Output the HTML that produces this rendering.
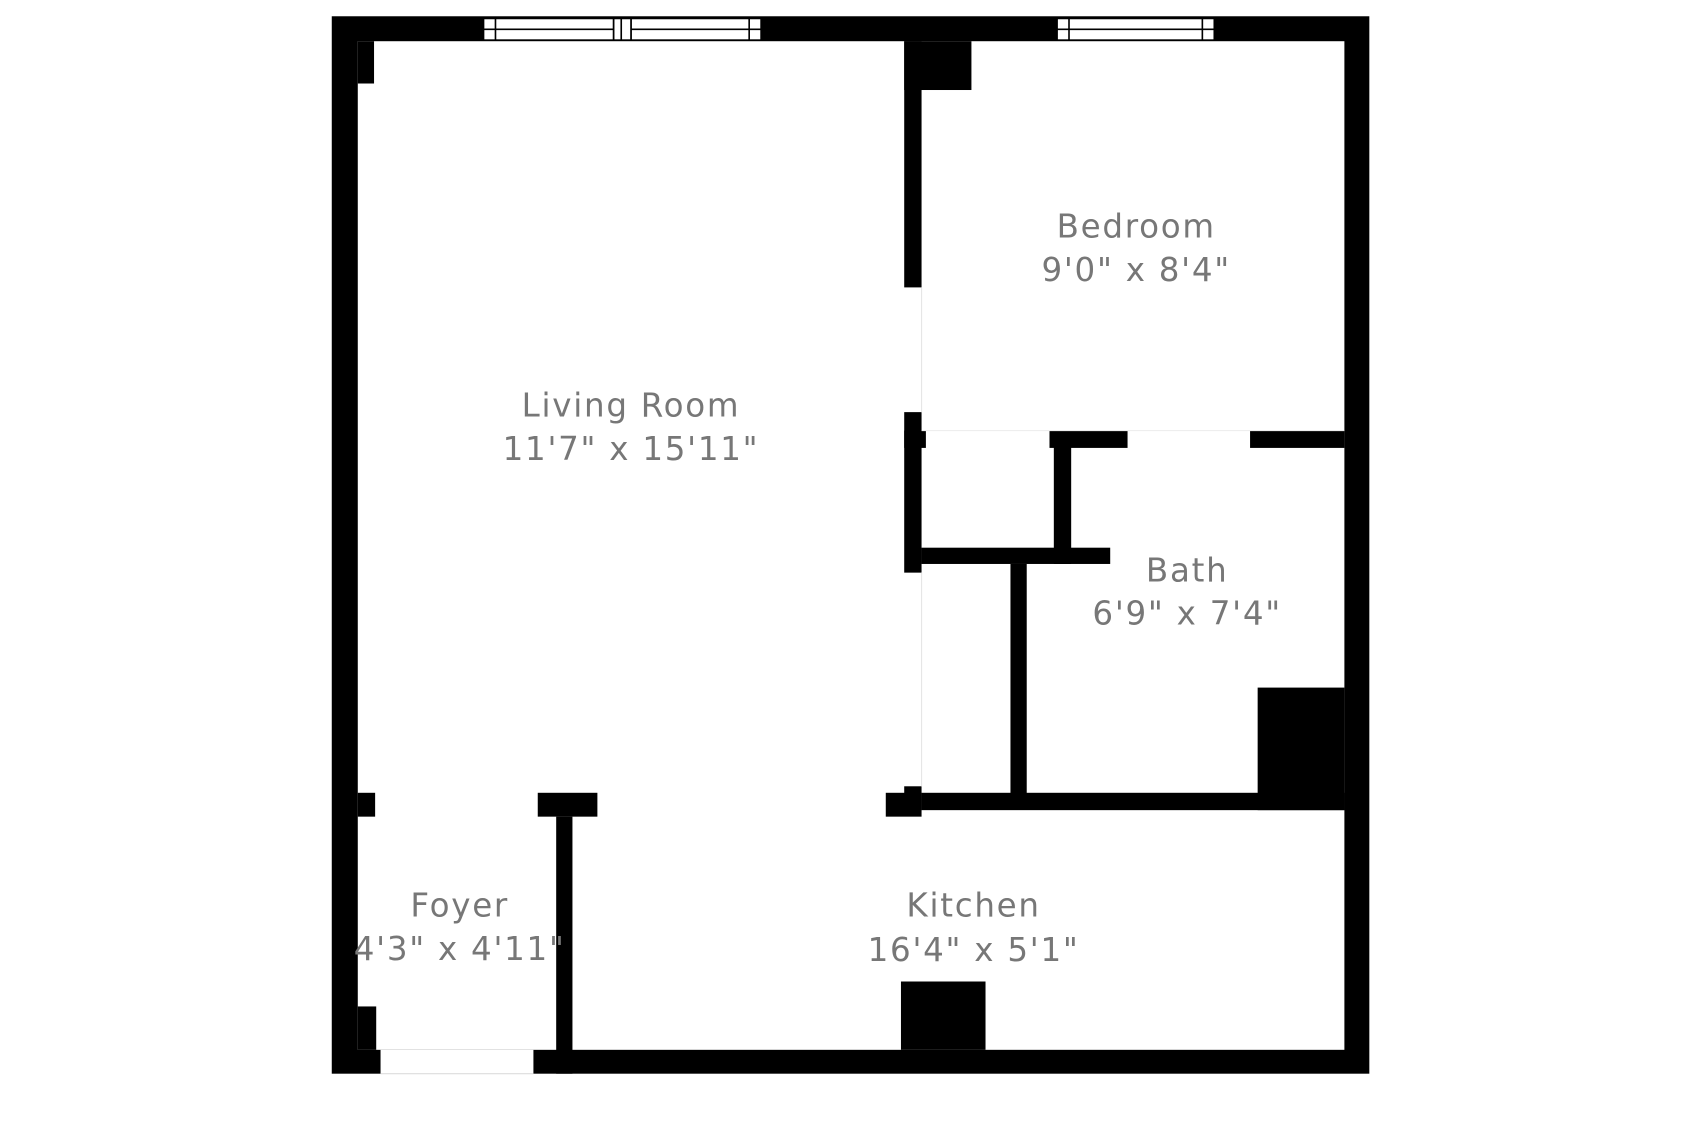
<!DOCTYPE html>
<html><head><meta charset="utf-8"><style>
html,body{margin:0;padding:0;background:#fff;width:1700px;height:1129px;overflow:hidden}
svg{display:block}
text{font-family:"DejaVu Sans","Liberation Sans",sans-serif;font-size:30px;fill:#777;text-anchor:middle;letter-spacing:1.6px}
</style></head><body>
<svg width="1700" height="1129" viewBox="0 0 1568 1041" preserveAspectRatio="none" xmlns="http://www.w3.org/2000/svg">
<rect width="1568" height="1041" fill="#fff"/>
<rect x="306" y="15" width="957" height="975" fill="#000"/>
<rect x="330" y="38" width="910" height="930" fill="#fff"/>
<rect x="351" y="968" width="141" height="22" fill="#fff"/>
<line x1="351" y1="990" x2="492" y2="990" stroke="#ddd" stroke-width="1"/>
<g fill="#fff" stroke="#000" stroke-width="1.5">
<rect x="446" y="17" width="120" height="20"/><rect x="582" y="17" width="120" height="20"/>
<rect x="566" y="17" width="16" height="20"/>
<rect x="975" y="17" width="145" height="20"/>
</g>
<g stroke="#000" stroke-width="1.5">
<line x1="446" y1="27" x2="566" y2="27"/><line x1="582" y1="27" x2="702" y2="27"/><line x1="975" y1="27" x2="1120" y2="27"/>
<line x1="457" y1="17" x2="457" y2="37"/><line x1="691" y1="17" x2="691" y2="37"/>
<line x1="986" y1="17" x2="986" y2="37"/><line x1="1109" y1="17" x2="1109" y2="37"/>
<line x1="573" y1="17" x2="573" y2="37"/>
</g>
<g fill="#000">
<rect x="330" y="38" width="15" height="39"/>
<rect x="834" y="38" width="16" height="227"/>
<rect x="834" y="38" width="62" height="45"/>
<rect x="834" y="380" width="16" height="148"/>
<rect x="834" y="397" width="20" height="16"/>
<rect x="968" y="397" width="72" height="16"/>
<rect x="1153" y="397" width="87" height="16"/>
<rect x="972" y="397" width="16" height="123"/>
<rect x="850" y="505" width="174" height="15"/>
<rect x="932" y="520" width="15" height="220"/>
<rect x="834" y="725" width="16" height="22"/>
<rect x="850" y="731" width="390" height="16"/>
<rect x="1160" y="634" width="80" height="113"/>
<rect x="330" y="731" width="16" height="22"/>
<rect x="496" y="731" width="55" height="22"/>
<rect x="817" y="731" width="33" height="22"/>
<rect x="513" y="753" width="15" height="237"/>
<rect x="330" y="928" width="17" height="40"/>
<rect x="831" y="905" width="78" height="63"/>
</g>
<line x1="850" y1="265" x2="850" y2="380" stroke="#e6e6e6" stroke-width="1"/>
<line x1="850" y1="528" x2="850" y2="725" stroke="#e6e6e6" stroke-width="1"/>
<line x1="850" y1="397" x2="1240" y2="397" stroke="#eee" stroke-width="1"/>
<text x="1048" y="219">Bedroom</text>
<text x="1048" y="259">9'0" x 8'4"</text>
<text x="582" y="384">Living Room</text>
<text x="582" y="424">11'7" x 15'11"</text>
<text x="1095" y="536">Bath</text>
<text x="1095" y="576">6'9" x 7'4"</text>
<text x="424" y="845">Foyer</text>
<text x="424" y="885">4'3" x 4'11"</text>
<text x="898" y="845">Kitchen</text>
<text x="898" y="886">16'4" x 5'1"</text>
</svg>
</body></html>
